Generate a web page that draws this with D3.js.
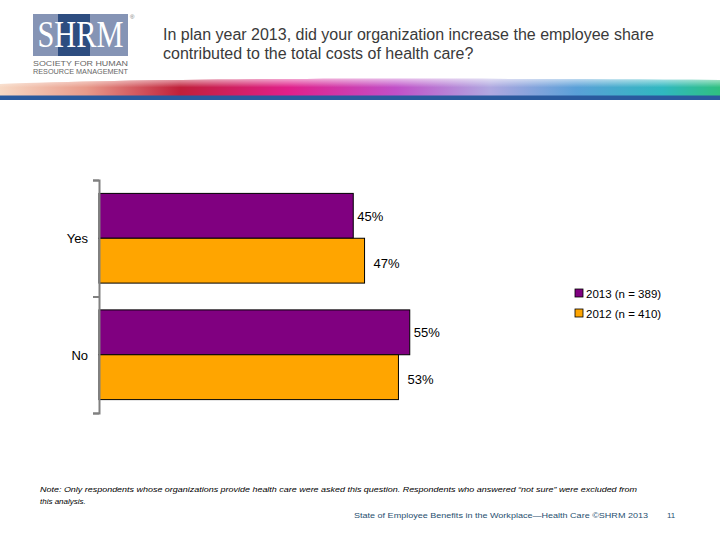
<!DOCTYPE html>
<html><head><meta charset="utf-8">
<script src="https://cdn.jsdelivr.net/npm/d3@7"></script>
<style>body{margin:0;background:#fff}svg{display:block}</style>
</head><body>
<svg id="c" width="720" height="540"></svg>
<script>
const categories = ["Yes", "No"];
const seriesNames = ["2013 (n = 389)", "2012 (n = 410)"];
const values2013 = [45, 55];
const values2012 = [47, 53];
const colors = ["#800080", "#FFA500"];

const svg = d3.select("#c");
const F = "Liberation Sans, Arial, sans-serif";

// Header logo
const logo = svg.append("g");
logo.append("rect").attr("x",33).attr("y",14).attr("width",95).attr("height",42).attr("fill","#8594b5");
logo.append("rect").attr("x",58).attr("y",14).attr("width",32).attr("height",42).attr("fill","#2d4d80");
logo.append("text").attr("x",80.5).attr("y",47/1.27).attr("transform","scale(1,1.27)").attr("text-anchor","middle")
  .attr("font-family","Liberation Serif, Times New Roman, serif").attr("font-size",30).attr("fill","#fff")
  .attr("textLength",86).attr("lengthAdjust","spacingAndGlyphs").text("SHRM");
logo.append("text").attr("x",130).attr("y",19).attr("font-family",F).attr("font-size",6).attr("fill","#777").text("®");
logo.append("text").attr("x",33).attr("y",66).attr("font-family",F).attr("font-size",7.5).attr("fill","#666")
  .attr("textLength",95).attr("lengthAdjust","spacingAndGlyphs").text("SOCIETY FOR HUMAN");
logo.append("text").attr("x",33).attr("y",74).attr("font-family",F).attr("font-size",7).attr("fill","#666")
  .attr("textLength",95).attr("lengthAdjust","spacingAndGlyphs").text("RESOURCE MANAGEMENT");

// Title
const title = svg.append("text").attr("font-family",F).attr("font-size",16).attr("fill","#3a3a3a");
title.append("tspan").attr("x",163).attr("y",40).text("In plan year 2013, did your organization increase the employee share");
title.append("tspan").attr("x",163).attr("y",59).text("contributed to the total costs of health care?");

// Swoosh band
const defs = svg.append("defs");
const g1 = defs.append("linearGradient").attr("id","sw").attr("x1","0").attr("x2","1").attr("y1","0").attr("y2","0");
[["0","#f7d9c4"],["0.12","#e89a8a"],["0.25","#c0203a"],["0.4","#e0208a"],["0.55","#c050c8"],["0.68","#b0a8e0"],["0.8","#5aa0d8"],["0.92","#30b8c0"],["1","#30c080"]]
  .forEach(([o,c])=>g1.append("stop").attr("offset",o).attr("stop-color",c));
const g2 = defs.append("linearGradient").attr("id","fade").attr("x1","0").attr("x2","0").attr("y1","0").attr("y2","1");
g2.append("stop").attr("offset","0").attr("stop-color","#fff").attr("stop-opacity",0.6);
g2.append("stop").attr("offset","0.5").attr("stop-color","#fff").attr("stop-opacity",0);
svg.append("path").attr("d","M0,84 C150,78 400,78 720,80 L720,96 L0,96 Z").attr("fill","url(#sw)");
svg.append("path").attr("d","M0,84 C150,78 400,78 720,80 L720,96 L0,96 Z").attr("fill","url(#fade)");
svg.append("rect").attr("x",0).attr("y",95.5).attr("width",720).attr("height",4.5).attr("fill","#2a5a9e");

// Chart
const x = d3.scaleLinear().domain([0,100]).range([99,664]);
const y0 = d3.scaleBand().domain(categories).range([180,413]).paddingInner(0.23).paddingOuter(0.115);
const y1 = d3.scaleBand().domain(seriesNames).range([0,y0.bandwidth()]);
const data = categories.map((c,i)=>({cat:c, vals:[values2013[i], values2012[i]]}));

const groups = svg.append("g").selectAll("g").data(data).join("g")
  .attr("transform",d=>`translate(0,${y0(d.cat)})`);
groups.selectAll("rect").data(d=>d.vals.map((v,j)=>({v,j}))).join("rect")
  .attr("x",x(0)).attr("y",d=>y1(seriesNames[d.j])).attr("width",d=>x(d.v)-x(0))
  .attr("height",y1.bandwidth()).attr("fill",d=>colors[d.j]).attr("stroke","#000").attr("stroke-width",1);
groups.selectAll("text").data(d=>d.vals.map((v,j)=>({v,j}))).join("text")
  .attr("x",d=>x(d.v)+(d.j===1?9:4))
  .attr("y",d=>y1(seriesNames[d.j])+y1.bandwidth()/2+(d.j===1?7:5))
  .attr("font-family",F).attr("font-size",13).attr("fill","#000").text(d=>d.v+"%");

// Category axis
const yAxis = d3.axisLeft(d3.scaleLinear().domain([0,2]).range([180,413])).tickValues([0,1,2]).tickSize(6).tickFormat("");
const ax = svg.append("g").attr("transform","translate(99,0)").call(yAxis);
ax.select(".domain").attr("stroke","#808080").attr("stroke-width",2);
ax.selectAll(".tick line").attr("stroke","#808080").attr("stroke-width",2);
svg.append("g").selectAll("text").data(categories).join("text")
  .attr("x",88).attr("y",d=>y0(d)+y0.bandwidth()/2+5).attr("text-anchor","end")
  .attr("font-family",F).attr("font-size",13).attr("fill","#000").text(d=>d);

// Legend
const lg = svg.append("g").selectAll("g").data(seriesNames).join("g")
  .attr("transform",(d,i)=>`translate(575,${289+i*20})`);
lg.append("rect").attr("width",8).attr("height",8).attr("fill",(d,i)=>colors[i]).attr("stroke","#000").attr("stroke-width",0.8);
lg.append("text").attr("x",11).attr("y",8.5).attr("font-family",F).attr("font-size",11.5).attr("fill","#000").text(d=>d);

// Footer
const note = svg.append("text").attr("font-family",F).attr("font-size",8).attr("font-style","italic").attr("fill","#000");
note.append("tspan").attr("x",40).attr("y",492).attr("textLength",597).attr("lengthAdjust","spacingAndGlyphs")
  .text("Note: Only respondents whose organizations provide health care were asked this question. Respondents who answered \u201cnot sure\u201d were excluded from");
note.append("tspan").attr("x",40).attr("y",504).text("this analysis.");
svg.append("text").attr("x",354).attr("y",518).attr("font-family",F).attr("font-size",8).attr("fill","#1f4f6f")
  .attr("textLength",294).attr("lengthAdjust","spacingAndGlyphs").text("State of Employee Benefits in the Workplace\u2014Health Care \u00a9SHRM 2013");
svg.append("text").attr("x",667).attr("y",518).attr("font-family",F).attr("font-size",8).attr("fill","#1f4f6f").text("11");
</script>
</body></html>
